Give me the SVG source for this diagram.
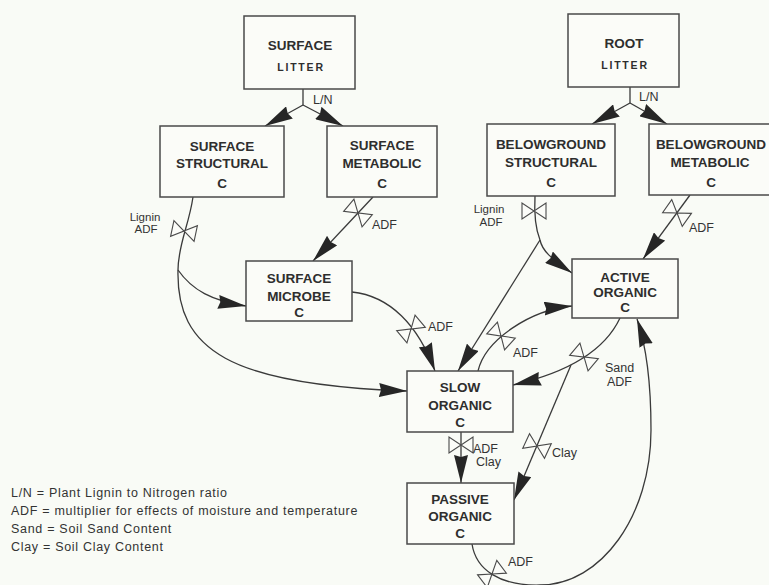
<svg xmlns="http://www.w3.org/2000/svg" xmlns:xlink="http://www.w3.org/1999/xlink" width="769" height="585" viewBox="0 0 769 585">
  <style>
    .box { fill: #fbfcf8; stroke: #4a4a4a; stroke-width: 1.5; }
    .nt { font-family: "Liberation Sans", Arial, sans-serif; font-weight: bold; font-size: 13.5px; fill: #2e2e2e; text-anchor: middle; }
    .sm { font-family: "Liberation Sans", Arial, sans-serif; font-weight: bold; font-size: 10.5px; letter-spacing: 1.8px; fill: #2e2e2e; text-anchor: middle; }
    .flow { fill: none; stroke: #3a3a3a; stroke-width: 1.3; marker-end: url(#ah); }
    .line { fill: none; stroke: #3a3a3a; stroke-width: 1.3; }
    .lbl { font-family: "Liberation Sans", Arial, sans-serif; font-size: 12.5px; fill: #333; }
    .lblc { font-family: "Liberation Sans", Arial, sans-serif; font-size: 11.5px; fill: #333; text-anchor: middle; }
    .leg { font-family: "Liberation Sans", Arial, sans-serif; font-size: 12.5px; letter-spacing: 0.7px; fill: #333; }
    .valve polygon { fill: #fbfcf8; stroke: #4a4a4a; stroke-width: 1.1; }
  </style>
  <defs>
    <marker id="ah" viewBox="0 0 28 14" refX="28" refY="7" markerWidth="28" markerHeight="14" markerUnits="userSpaceOnUse" orient="auto">
      <path d="M0,0 L28,7 L0,14 L2,7 z" fill="#262626"/>
    </marker>
    <!-- flow-control valve: two triangles meeting tip to tip -->
    <g id="valve" class="valve">
      <polygon points="-12,-8 -12,8 0,0"/>
      <polygon points="12,-8 12,8 0,0"/>
    </g>
  </defs>

  <rect width="769" height="585" fill="#f9fbf6"/>

  <!-- connectors -->
  <g id="connectors">
    <!-- surface litter split by L/N -->
    <path class="line" d="M303,89 L303,105"/>
    <path class="flow" d="M303,105 L265,126"/>
    <path class="flow" d="M303,105 L343,126"/>
    <!-- root litter split by L/N -->
    <path class="line" d="M630,87 L630,103"/>
    <path class="flow" d="M630,103 L592,124"/>
    <path class="flow" d="M630,103 L667,124"/>

    <!-- surface structural to slow organic and surface microbe -->
    <path class="flow" d="M193,197 C189,225 178,245 178,270 C176,350 230,385 407,391"/>
    <path class="flow" d="M178,270 C192,290 212,301 246,306"/>
    <!-- surface metabolic to surface microbe -->
    <path class="flow" d="M373,197 L313,261"/>
    <!-- surface microbe to slow organic -->
    <path class="flow" d="M352,292 C390,296 418,325 435,371"/>

    <!-- belowground structural to active and slow -->
    <path class="line" d="M535,196 C534,215 536,230 540,240"/>
    <path class="flow" d="M540,240 C542,250 550,258 572,273"/>
    <path class="flow" d="M540,240 L458,371"/>
    <!-- belowground metabolic to active -->
    <path class="flow" d="M690,195 L643,259"/>

    <!-- slow to active -->
    <path class="flow" d="M478,371 C485,340 530,310 572,306"/>
    <!-- active to slow -->
    <path class="flow" d="M620,318 C605,350 570,372 513,385"/>
    <!-- active to passive -->
    <path class="flow" d="M571,365 L514,500"/>
    <!-- slow to passive -->
    <path class="flow" d="M461,432 L461,483"/>
    <!-- passive back to active -->
    <path class="flow" d="M472,544 C476,570 500,586 540,585 C601,585 651,516 651,430 C651,380 646,345 637,319"/>

    <!-- valves -->
    <use xlink:href="#valve" transform="translate(184,231) rotate(12)"/>
    <use xlink:href="#valve" transform="translate(358,213) rotate(40)"/>
    <use xlink:href="#valve" transform="translate(411,329) rotate(-40)"/>
    <use xlink:href="#valve" transform="translate(534,211)"/>
    <use xlink:href="#valve" transform="translate(677,213) rotate(35)"/>
    <use xlink:href="#valve" transform="translate(501,336) rotate(42)"/>
    <use xlink:href="#valve" transform="translate(584,357) rotate(40)"/>
    <use xlink:href="#valve" transform="translate(537,446) rotate(25)"/>
    <use xlink:href="#valve" transform="translate(461,445)"/>
    <use xlink:href="#valve" transform="translate(492,574) rotate(-37)"/>

    <!-- connector labels -->
    <text class="lbl" x="313" y="104" font-size="11">L/N</text>
    <text class="lbl" x="639" y="101" font-size="11">L/N</text>
    <text class="lblc" x="145" y="221">Lignin</text>
    <text class="lblc" x="146" y="233">ADF</text>
    <text class="lbl" x="372" y="229">ADF</text>
    <text class="lbl" x="428" y="331">ADF</text>
    <text class="lblc" x="489" y="213">Lignin</text>
    <text class="lblc" x="491" y="226">ADF</text>
    <text class="lbl" x="689" y="232">ADF</text>
    <text class="lbl" x="513" y="357">ADF</text>
    <text class="lbl" x="605" y="372">Sand</text>
    <text class="lbl" x="607" y="386">ADF</text>
    <text class="lbl" x="552" y="457">Clay</text>
    <text class="lbl" x="473" y="453">ADF</text>
    <text class="lbl" x="476" y="466">Clay</text>
    <text class="lbl" x="508" y="566">ADF</text>
  </g>

  <!-- nodes -->
  <g id="surface-litter">
    <rect class="box" x="244" y="16" width="111" height="73"/>
    <text class="nt" x="300" y="50">SURFACE</text>
    <text class="sm" x="301" y="71">LITTER</text>
  </g>
  <g id="root-litter">
    <rect class="box" x="568" y="14" width="111" height="73"/>
    <text class="nt" x="624" y="48">ROOT</text>
    <text class="sm" x="625" y="69">LITTER</text>
  </g>
  <g id="surface-structural">
    <rect class="box" x="160" y="126" width="124" height="71"/>
    <text class="nt" x="222" y="151">SURFACE</text>
    <text class="nt" x="222" y="168">STRUCTURAL</text>
    <text class="nt" x="222" y="188">C</text>
  </g>
  <g id="surface-metabolic">
    <rect class="box" x="327" y="126" width="110" height="71"/>
    <text class="nt" x="382" y="150">SURFACE</text>
    <text class="nt" x="382" y="168">METABOLIC</text>
    <text class="nt" x="382" y="188">C</text>
  </g>
  <g id="belowground-structural">
    <rect class="box" x="487" y="124" width="128" height="72"/>
    <text class="nt" x="551" y="149">BELOWGROUND</text>
    <text class="nt" x="551" y="167">STRUCTURAL</text>
    <text class="nt" x="551" y="187">C</text>
  </g>
  <g id="belowground-metabolic">
    <rect class="box" x="649" y="124" width="124" height="71"/>
    <text class="nt" x="711" y="149">BELOWGROUND</text>
    <text class="nt" x="710" y="167">METABOLIC</text>
    <text class="nt" x="711" y="187">C</text>
  </g>
  <g id="surface-microbe">
    <rect class="box" x="246" y="261" width="106" height="60"/>
    <text class="nt" x="299" y="283">SURFACE</text>
    <text class="nt" x="299" y="301">MICROBE</text>
    <text class="nt" x="299" y="317">C</text>
  </g>
  <g id="active-organic">
    <rect class="box" x="572" y="259" width="106" height="59"/>
    <text class="nt" x="625" y="282">ACTIVE</text>
    <text class="nt" x="625" y="297">ORGANIC</text>
    <text class="nt" x="625" y="312">C</text>
  </g>
  <g id="slow-organic">
    <rect class="box" x="407" y="371" width="106" height="61"/>
    <text class="nt" x="460" y="392">SLOW</text>
    <text class="nt" x="460" y="410">ORGANIC</text>
    <text class="nt" x="460" y="427">C</text>
  </g>
  <g id="passive-organic">
    <rect class="box" x="407" y="483" width="107" height="61"/>
    <text class="nt" x="460" y="504">PASSIVE</text>
    <text class="nt" x="460" y="521">ORGANIC</text>
    <text class="nt" x="460" y="538">C</text>
  </g>

  <!-- legend -->
  <g id="legend">
    <text class="leg" x="11" y="497">L/N = Plant Lignin to Nitrogen ratio</text>
    <text class="leg" x="11" y="515">ADF = multiplier for effects of moisture and temperature</text>
    <text class="leg" x="11" y="533">Sand = Soil Sand Content</text>
    <text class="leg" x="11" y="551">Clay = Soil Clay Content</text>
  </g>
</svg>
